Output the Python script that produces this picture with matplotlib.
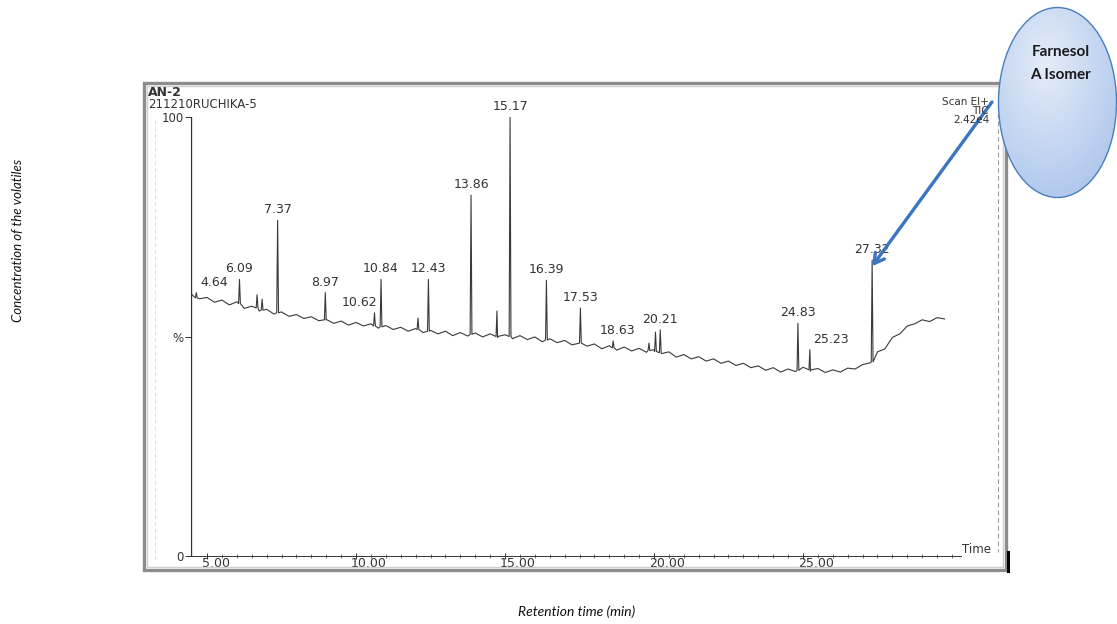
import matplotlib.pyplot as plt
import numpy as np
from matplotlib.patches import Ellipse, Rectangle
from matplotlib.colors import LinearSegmentedColormap
from matplotlib.transforms import ScaledTranslation

# baseline of the TIC trace (time in min, intensity in %)
base_t = [4.50, 4.75, 5.00, 5.25, 5.50, 5.75, 6.00, 6.25, 6.50, 6.75,
          7.00, 7.25, 7.50, 7.75, 8.00, 8.25, 8.50, 8.75, 9.00, 9.25,
          9.50, 9.75, 10.00, 10.25, 10.50, 10.75, 11.00, 11.25, 11.50, 11.75,
          12.00, 12.25, 12.50, 12.75, 13.00, 13.25, 13.50, 13.75, 14.00, 14.25,
          14.50, 14.75, 15.00, 15.25, 15.50, 15.75, 16.00, 16.25, 16.50, 16.75,
          17.00, 17.25, 17.50, 17.75, 18.00, 18.25, 18.50, 18.75, 19.00, 19.25,
          19.50, 19.75, 20.00, 20.25, 20.50, 20.75, 21.00, 21.25, 21.50, 21.75,
          22.00, 22.25, 22.50, 22.75, 23.00, 23.25, 23.50, 23.75, 24.00, 24.25,
          24.50, 24.75, 25.00, 25.25, 25.50, 25.75, 26.00, 26.25, 26.50, 26.75,
          27.00, 27.25, 27.50, 27.75, 28.00, 28.25, 28.50, 28.75, 29.00, 29.25,
          29.50, 29.75]
base_v = [59.5, 58.6, 58.9, 57.8, 58.3, 57.2, 57.9, 56.4, 56.9, 55.8,
          56.2, 55.1, 55.6, 54.6, 55.0, 54.1, 54.5, 53.6, 53.9, 53.0,
          53.5, 52.6, 53.2, 52.4, 52.9, 51.9, 52.5, 51.6, 52.1, 51.2,
          51.8, 50.9, 51.4, 50.6, 51.2, 50.2, 50.9, 50.1, 50.8, 49.9,
          50.6, 49.8, 50.4, 49.5, 50.2, 49.3, 49.9, 48.8, 49.5, 48.6,
          49.1, 48.1, 48.7, 47.8, 48.3, 47.2, 47.9, 46.9, 47.6, 46.7,
          47.3, 46.4, 47.0, 46.1, 46.5, 45.3, 45.9, 44.9, 45.4, 44.4,
          44.9, 43.9, 44.4, 43.4, 43.9, 42.9, 43.3, 42.3, 42.9, 41.9,
          42.6, 42.0, 43.0, 42.1, 42.7, 41.8, 42.4, 41.9, 42.8, 42.6,
          43.6, 44.0, 46.5, 47.2, 49.8, 50.6, 52.4, 52.9, 53.8, 53.4,
          54.3, 54.0]

# peaks: retention time, top and foot intensity (%)
peak_t = [4.64, 6.09, 6.68, 6.85, 7.37, 8.97, 10.62, 10.84, 12.08, 12.43,
          13.86, 14.73, 15.17, 16.39, 17.53, 18.63, 19.83, 20.05, 20.21,
          24.83, 25.23, 27.32]
peak_h = [60.0, 63.0, 59.5, 58.5, 76.5, 60.0, 55.4, 63.0, 54.2, 63.0,
          82.2, 55.8, 100.0, 62.8, 56.5, 49.0, 48.5, 51.0, 51.5,
          53.0, 47.0, 67.4]
peak_base = [58.8, 57.5, 56.5, 56.0, 55.4, 53.8, 52.4, 52.2, 51.6, 51.2,
             50.5, 50.0, 50.0, 49.2, 48.5, 47.4, 46.8, 46.6, 46.3,
             42.3, 42.4, 44.2]
labelled = ["4.64", "6.09", "7.37", "8.97", "10.62", "10.84", "12.43", "13.86",
            "15.17", "16.39", "17.53", "18.63", "20.21", "24.83", "25.23", "27.32"]
solvent_t = 4.45

x_ticks = [5, 10, 15, 20, 25]
x_ticklabels = ["5.00", "10.00", "15.00", "20.00", "25.00"]

# label nudges (min) for labels that sit beside their peak
label_dx = {"4.64": 0.6, "10.62": -0.5, "18.63": 0.15, "25.23": 0.7}

ink = "#333333"
W, H = 1117, 624
fig = plt.figure(figsize=(W / 100, H / 100), dpi=100)

# chromatogram axes, placed where the scan puts them
xl, xr = solvent_t, 30.3
px = lambda t: 58 + 29.8 * t
left, right, bottom, top = px(xl), px(xr), 556, 117
ax = fig.add_axes([left / W, 1 - bottom / H, (right - left) / W, (bottom - top) / H])
ax.set_xlim(xl, xr)
ax.set_ylim(0, 100)
for s in ["top", "right"]:
    ax.spines[s].set_visible(False)
ax.spines["left"].set_color(ink)
ax.spines["bottom"].set_color(ink)
ax.spines["left"].set_linewidth(0.8)
ax.spines["bottom"].set_linewidth(0.7)

# build trace: baseline with each peak inserted as a spike
pts = list(zip(base_t, base_v))
for t, h, b in zip(peak_t, peak_h, peak_base):
    pts += [(t - 0.03, b), (t, h), (t + 0.03, b)]
pts.sort()
tt, vv = zip(*pts)
ax.plot(tt, vv, color="#3a3a3a", lw=0.8)
ax.plot([solvent_t, solvent_t], [0, 100], color="#3a3a3a", lw=0.9)

for t, h in zip(peak_t, peak_h):
    lab = f"{t:.2f}"
    if lab in labelled:
        ax.text(t + label_dx.get(lab, 0), h + 0.9, lab, ha="center", va="bottom",
                fontsize=9, color=ink)

ax.set_yticks([0, 50, 100], ["0", "%", "100"])
ax.tick_params(axis="y", length=4, width=0.7, colors=ink, labelsize=8.5, pad=1)
ax.set_xticks(x_ticks, x_ticklabels)
ax.set_xticks(np.arange(5, 30.1, 0.5), minor=True)
ax.tick_params(axis="x", which="both", direction="inout", colors=ink, labelsize=9, pad=0)
ax.tick_params(axis="x", which="major", length=5, width=0.7)
ax.tick_params(axis="x", which="minor", length=3, width=0.5)
shift = ScaledTranslation(-5 / 100, 2 / 100, fig.dpi_scale_trans)
for lab in ax.get_xticklabels():
    lab.set_ha("left")
    lab.set_transform(lab.get_transform() + shift)
ax.text(1.002, 0.0, "Time", transform=ax.transAxes, ha="left", va="bottom",
        fontsize=8.5, color=ink)

# overlay in pixel coordinates for the scan frame and annotations
ov = fig.add_axes([0, 0, 1, 1], facecolor="none", zorder=5)
ov.axis("off")

ov.add_patch(Rectangle((144, 83), 862, 487, fill=False, ec="#8c8c8c", lw=2.4))
ov.add_patch(Rectangle((147, 86), 856, 481, fill=False, ec="#d0d0d0", lw=1.0))
ov.plot([998, 998], [90, 552], color="#9a9a9a", lw=0.8, ls=(0, (4, 3)))
ov.plot([155, 155], [120, 560], color="#dddddd", lw=0.7, ls=(0, (4, 3)))
ov.plot([1008, 1008], [552, 571], color="black", lw=2.2)

ov.text(148, 92, "AN-2", fontsize=9, fontweight="bold", color=ink, va="center")
ov.text(148, 105, "211210RUCHIKA-5", fontsize=8.5, color=ink, va="center")
ov.text(989, 111, "Scan EI+\nTIC\n2.42e4", fontsize=7.5, color=ink, ha="right",
        va="center", multialignment="right", linespacing=0.85)

# callout bubble
ell = Ellipse((1057.5, 102.5), 118, 190, facecolor="none", edgecolor="#4a7ebb",
              lw=1.0, zorder=4)
ov.add_patch(ell)
gy, gx = np.mgrid[0:1:200j, 0:1:120j]
grad = np.clip(np.hypot(gx - 0.4, gy - 0.3) / 0.85, 0, 1)
cmap = LinearSegmentedColormap.from_list("bubble", ["#e4ecf9", "#a8c2ea"])
im = ov.imshow(grad, cmap=cmap, extent=(998.5, 1116.5, 197.5, 7.5), aspect="auto", zorder=3)
im.set_clip_path(ell)
ov.text(1061, 52, "Farnesol", family="Lato", fontweight="bold", fontsize=11,
        color="#1a1a1a", ha="center", va="center", zorder=6)
ov.text(1060, 75, "A Isomer", family="Lato", fontweight="bold", fontsize=11,
        color="#1a1a1a", ha="center", va="center", zorder=6)

ov.text(18, 240, "Concentration of the volatiles", family="Lato", style="italic",
        fontsize=9.5, rotation=90, ha="center", va="center", color="#111111")
ov.text(577, 612, "Retention time (min)", family="Lato", style="italic",
        fontsize=10, ha="center", va="center", color="#111111")

ov.set_xlim(0, W)
ov.set_ylim(H, 0)

# arrow from the bubble to the farnesol peak
ax.annotate("", xy=(27.32, 66.0), xycoords="data",
            xytext=(992, H - 102), textcoords="figure pixels",
            arrowprops=dict(arrowstyle="->,head_length=0.7,head_width=0.4",
                            color="#3a74c2", lw=2.4, shrinkA=0, shrinkB=0),
            annotation_clip=False)

fig.savefig("out.png", dpi=100)
